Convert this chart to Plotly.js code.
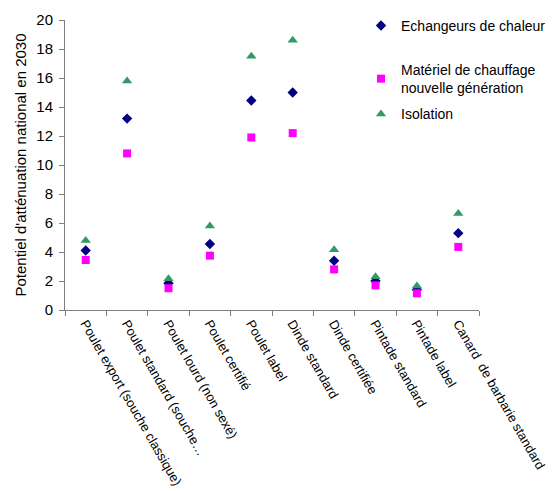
<!DOCTYPE html>
<html>
<head>
<meta charset="utf-8">
<script src="https://cdn.plot.ly/plotly-3.0.1.min.js"></script>
<style>body{margin:0;padding:0;background:#fff;}#chart{width:554px;height:491px;}</style>
</head>
<body>
<div id="chart"></div>
<script>
const categories = [
  "Poulet export (souche classique)",
  "Poulet standard (souche…",
  "Poulet lourd (non sexé)",
  "Poulet certifié",
  "Poulet label",
  "Dinde standard",
  "Dinde certifiée",
  "Pintade standard",
  "Pintade label",
  "Canard  de barbarie standard"
];
const echangeurs = [4.1, 13.2, 1.85, 4.55, 14.45, 15.0, 3.4, 2.0, 1.4, 5.3];
const materiel   = [3.45, 10.8, 1.5, 3.75, 11.9, 12.2, 2.8, 1.7, 1.15, 4.35];
const isolation  = [4.8, 15.8, 2.15, 5.8, 17.5, 18.6, 4.15, 2.3, 1.65, 6.65];
const seriesNames = ["Echangeurs de chaleur", "Matériel de chauffage<br>nouvelle génération", "Isolation"];

const font = "Liberation Sans, Arial, sans-serif";
const traces = [
  {x: categories, y: echangeurs, name: seriesNames[0], type: "scatter", mode: "markers",
   marker: {symbol: "diamond", color: "#000080", size: 8}, legend: "legend"},
  {x: categories, y: materiel, name: seriesNames[1], type: "scatter", mode: "markers",
   marker: {symbol: "square", color: "#FF00FF", size: 8}, legend: "legend2"},
  {x: categories, y: isolation, name: seriesNames[2], type: "scatter", mode: "markers",
   marker: {symbol: "triangle-up", color: "#339966", size: 9}, legend: "legend3"}
];
const legBase = {xanchor: "left", yanchor: "top", bgcolor: "rgba(0,0,0,0)",
  font: {family: font, size: 14, color: "#000"}, itemwidth: 30, tracegroupgap: 0};
const layout = {
  width: 554, height: 491,
  margin: {l: 65, r: 75, t: 20, b: 181, autoexpand: false},
  paper_bgcolor: "#fff", plot_bgcolor: "#fff",
  font: {family: font, color: "#000"},
  showlegend: true,
  legend: Object.assign({}, legBase, {x: 0.715, y: 1.035}),
  legend2: Object.assign({}, legBase, {x: 0.715, y: 0.883}),
  legend3: Object.assign({}, legBase, {x: 0.715, y: 0.73}),
  xaxis: {
    type: "category", range: [-0.5, 9.5], showline: true, linecolor: "#808080", linewidth: 1,
    ticks: "outside", tickson: "boundaries", ticklen: 5, tickcolor: "#808080",
    showgrid: false, zeroline: false, tickangle: 60,
    tickfont: {family: font, size: 13, color: "#000"}, automargin: false
  },
  yaxis: {
    range: [0, 20], dtick: 2, showline: true, linecolor: "#808080", linewidth: 1,
    ticks: "outside", ticklen: 5, tickcolor: "#808080", showgrid: false, zeroline: false,
    ticklabelstandoff: 3,
    tickfont: {family: font, size: 15, color: "#000"}, automargin: false,
    title: {text: "Potentiel d'atténuation national en 2030", font: {family: font, size: 15, color: "#000"}, standoff: 6}
  }
};
Plotly.newPlot("chart", traces, layout, {displayModeBar: false, staticPlot: true});
</script>
</body>
</html>
